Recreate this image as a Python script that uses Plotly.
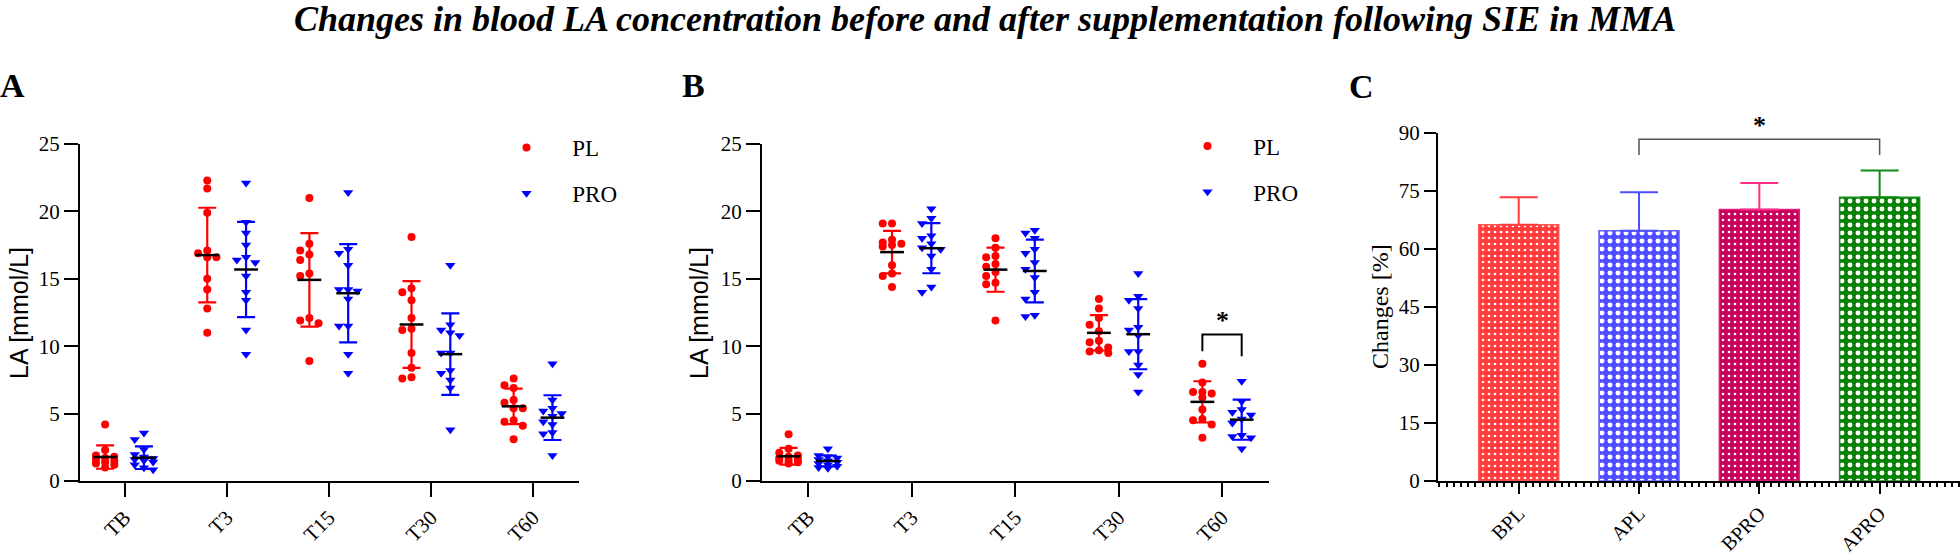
import plotly.graph_objects as go

W, H = 1960, 555


def px(x):
    return x / W


def py(y):
    return 1 - y / H


SERIF = "Liberation Serif, Times New Roman, serif"
SANS = "Liberation Sans, Arial, sans-serif"
NB = "\u00a0" * 3

# ---------------- data ----------------
times = ["TB", "T3", "T15", "T30", "T60"]

# Panel A
A_PL = [
    [4.2, 2.3, 1.9, 1.8, 1.7, 1.6, 1.5, 1.4, 1.3, 1.2, 1.0],
    [22.3, 21.7, 19.9, 17.1, 16.9, 16.6, 16.6, 15.0, 14.2, 12.8, 11.0],
    [21.0, 17.6, 17.1, 16.8, 16.4, 15.4, 15.2, 12.1, 11.9, 11.7, 8.9],
    [18.1, 14.3, 14.0, 13.4, 12.1, 11.3, 11.2, 9.5, 8.4, 7.7, 7.6],
    [7.6, 7.1, 6.9, 6.0, 5.8, 5.4, 5.4, 4.5, 4.4, 4.1, 3.1],
]
A_PRO = [
    [3.56, 3.07, 2.33, 1.96, 1.78, 1.66, 1.6, 1.53, 1.41, 1.21, 0.99, 0.84],
    [22.1, 19.2, 18.4, 17.5, 16.6, 16.4, 16.2, 15.2, 14.0, 13.4, 11.2, 9.4],
    [21.4, 17.2, 16.9, 16.0, 14.2, 14.2, 14.1, 13.5, 11.5, 11.5, 9.4, 8.0],
    [16.0, 11.6, 11.2, 11.0, 10.8, 9.5, 9.5, 8.2, 8.0, 7.5, 6.9, 3.8],
    [8.7, 6.0, 5.4, 5.2, 5.0, 4.8, 4.4, 4.2, 3.6, 3.5, 1.9],
]
A_PL_mean = [1.78, 16.76, 14.92, 11.61, 5.54]
A_PL_sd = [0.87, 3.51, 3.47, 3.22, 1.32]
A_PRO_mean = [1.73, 15.69, 13.93, 9.41, 4.70]
A_PRO_sd = [0.84, 3.54, 3.64, 3.02, 1.66]

# Panel B
B_PL = [
    [3.47, 2.4, 2.1, 1.9, 1.8, 1.7, 1.6, 1.5, 1.5, 1.4, 1.3],
    [19.1, 19.1, 17.9, 17.7, 17.6, 17.5, 17.4, 16.0, 15.4, 15.2, 14.4],
    [18.0, 17.3, 16.7, 16.6, 16.1, 15.9, 15.5, 15.2, 14.7, 14.6, 11.9],
    [13.5, 12.8, 12.1, 11.6, 11.1, 10.4, 10.3, 9.9, 9.7, 9.6, 9.5],
    [8.7, 7.3, 6.6, 6.6, 6.5, 6.2, 5.3, 4.6, 4.5, 4.2, 3.2],
]
B_PRO = [
    [2.4, 1.9, 1.8, 1.7, 1.6, 1.5, 1.4, 1.3, 1.2, 1.1, 1.0, 0.95],
    [20.2, 19.5, 19.1, 18.2, 18.0, 17.6, 17.3, 17.2, 16.7, 15.7, 14.4, 14.0],
    [18.6, 18.4, 18.0, 17.2, 16.9, 16.2, 15.7, 15.1, 14.0, 13.5, 12.3, 12.2],
    [15.4, 13.7, 13.4, 12.8, 11.4, 11.2, 10.8, 9.6, 9.6, 8.6, 7.9, 6.6],
    [7.4, 5.9, 5.3, 5.1, 4.9, 4.6, 4.3, 3.4, 3.3, 3.2, 2.4],
]
B_PL_mean = [1.83, 16.98, 15.68, 10.99, 5.87]
B_PL_sd = [0.62, 1.58, 1.64, 1.31, 1.53]
B_PRO_mean = [1.49, 17.27, 15.58, 10.89, 4.55]
B_PRO_sd = [0.40, 1.86, 2.33, 2.60, 1.49]

# Panel C
groups_C = ["BPL", "APL", "BPRO", "APRO"]
C_mean = [66.3, 64.7, 70.2, 73.4]
C_sd = [7.1, 10.0, 6.9, 6.9]

# ---------------- styling ----------------
RED = "#ff0000"
BLUE = "#0000ff"
GROUP_OFF = 0.19
JIT = 0.09


def swarm(vals, center, step, thresh):
    """deterministic dot-plot spreading: place each point in the first
    column (centre, left, right) that has no close neighbour"""
    order = sorted(range(len(vals)), key=lambda i: -vals[i])
    slots = [0, -1, 1]
    placed = {s: [] for s in slots}
    xs = [0.0] * len(vals)
    for i in order:
        v = vals[i]
        best, bestd = None, -1
        for s in slots:
            d = min([abs(v - u) for u in placed[s]] + [1e9])
            if d >= thresh:
                best = s
                break
            if d > bestd:
                best, bestd = s, d
        placed[best].append(v)
        xs[i] = center + best * step
    return xs


fig = go.Figure()


def dot_panel(PL, PRO, PLm, PLs, PROm, PROs, xa, ya, legend):
    for name, data, mean, sd, off, color, sym in [
        ("PL", PL, PLm, PLs, -GROUP_OFF, RED, "circle"),
        ("PRO", PRO, PROm, PROs, GROUP_OFF, BLUE, "triangle-down"),
    ]:
        xs, ys = [], []
        for k, vals in enumerate(data):
            xs += swarm(vals, k + off, JIT, 0.55)
            ys += vals
        fig.add_trace(go.Scatter(
            x=xs, y=ys, mode="markers", name=NB + name, xaxis=xa, yaxis=ya,
            legend=legend, legendgroup=legend + name,
            marker=dict(symbol=sym, size=8 if sym == "circle" else 9,
                        color=color, line=dict(width=0)),
            hoverinfo="y",
        ))
        fig.add_trace(go.Scatter(
            x=[k + off for k in range(len(times))], y=mean, mode="markers",
            xaxis=xa, yaxis=ya, showlegend=False,
            marker=dict(symbol="line-ew", size=17,
                        line=dict(width=2.5, color="black")),
            error_y=dict(type="data", array=sd, color=color, thickness=2.2,
                         width=9),
            hoverinfo="y",
        ))


dot_panel(A_PL, A_PRO, A_PL_mean, A_PL_sd, A_PRO_mean, A_PRO_sd, "x", "y", "legend")
dot_panel(B_PL, B_PRO, B_PL_mean, B_PL_sd, B_PRO_mean, B_PRO_sd, "x2", "y2", "legend2")

# Panel C bars
bar_fill = ["#ff3b3b", "#4d4dff", "#c8005a", "#008000"]
bar_edge = ["#ff5555", "#6060ff", "#e0207a", "#1a8a1a"]
err_col = ["#ff3b3b", "#4d4dff", "#ff2e8a", "#108a10"]
pat_size = [6, 8, 6, 8]
pat_sol = [0.16, 0.3, 0.16, 0.3]
for i, g in enumerate(groups_C):
    fig.add_trace(go.Bar(
        x=[i], y=[C_mean[i]], width=0.665, xaxis="x3", yaxis="y3",
        showlegend=False, name=g,
        marker=dict(color=bar_fill[i],
                    line=dict(color=bar_edge[i], width=1.5),
                    pattern=dict(shape=".", fgcolor="white",
                                 bgcolor=bar_fill[i],
                                 size=pat_size[i], solidity=pat_sol[i],
                                 fillmode="replace")),
        error_y=dict(type="data", symmetric=False, array=[C_sd[i]],
                     arrayminus=[0], color=err_col[i], thickness=2,
                     width=19),
    ))

# ---------------- axes ----------------
tickfont = dict(family=SERIF, size=21, color="black")
axis_common = dict(showline=True, linecolor="black", linewidth=2,
                   ticks="outside", tickwidth=2,
                   tickcolor="black", showgrid=False, zeroline=False,
                   automargin=False)

y0 = py(481)
layout = dict(
    width=W, height=H, margin=dict(l=0, r=0, t=0, b=0, autoexpand=False),
    paper_bgcolor="white", plot_bgcolor="white",
    barmode="overlay", showlegend=True,
    xaxis=dict(domain=[px(80), px(579)], range=[-0.436, 4.45], anchor="y",
               tickmode="array", tickvals=list(range(5)), ticktext=times,
               tickangle=-45, ticklen=14, tickfont=tickfont, **axis_common),
    yaxis=dict(domain=[y0, py(144)], range=[0, 25], anchor="x",
               tickmode="array", tickvals=[0, 5, 10, 15, 20, 25],
               ticklen=14, tickfont=tickfont, **axis_common),
    xaxis2=dict(domain=[px(762), px(1269)], range=[-0.447, 4.454],
                anchor="y2", tickmode="array", tickvals=list(range(5)),
                ticktext=times, tickangle=-45, ticklen=14, tickfont=tickfont,
                **axis_common),
    yaxis2=dict(domain=[y0, py(144)], range=[0, 25], anchor="x2",
                tickmode="array", tickvals=[0, 5, 10, 15, 20, 25],
                ticklen=14, tickfont=tickfont, **axis_common),
    xaxis3=dict(domain=[px(1438), 1.0], range=[-0.671, 3.668], anchor="y3",
                tickmode="array", tickvals=list(range(4)),
                ticktext=groups_C, tickangle=-45, ticklen=11,
                tickfont=dict(family=SERIF, size=20, color="black"),
                minor=dict(ticks="outside", ticklen=4, tickwidth=1.5,
                           tickcolor="black", dtick=0.06, tick0=0,
                           showgrid=False),
                **axis_common),
    yaxis3=dict(domain=[y0, py(133)], range=[0, 90], anchor="x3",
                tickmode="array", tickvals=[0, 15, 30, 45, 60, 75, 90],
                ticklen=12, tickfont=tickfont, **axis_common),
    legend=dict(x=px(498), y=py(126), xanchor="left", yanchor="top",
                font=dict(family=SERIF, size=23, color="black"),
                bgcolor="rgba(0,0,0,0)", itemwidth=47, tracegroupgap=13),
    legend2=dict(x=px(1179), y=py(124.5), xanchor="left", yanchor="top",
                 font=dict(family=SERIF, size=23, color="black"),
                 bgcolor="rgba(0,0,0,0)", itemwidth=47, tracegroupgap=13),
)
fig.update_layout(**layout)

# ---------------- annotations ----------------
ann = []
ann.append(dict(text="<b><i>Changes in blood LA concentration before and after "
                     "supplementation following SIE in MMA</i></b>",
                x=px(985), y=py(19), xref="paper", yref="paper",
                xanchor="center", yanchor="middle",
                showarrow=False, font=dict(family=SERIF, size=36, color="black")))
for lab, xx, yy in [("A", 12, 86), ("B", 693, 86), ("C", 1361, 87)]:
    ann.append(dict(text="<b>%s</b>" % lab, x=px(xx), y=py(yy), xref="paper",
                    yref="paper", showarrow=False, xanchor="center",
                    yanchor="middle",
                    font=dict(family=SERIF, size=34, color="black")))
for txt, xx, yy, fam, fs in [("LA [mmol/L]", 19, 313, SANS, 25),
                             ("LA [mmol/L]", 699, 313, SANS, 25),
                             ("Changes [%]", 1380, 307, SERIF, 24)]:
    ann.append(dict(text=txt, x=px(xx), y=py(yy), xref="paper", yref="paper",
                    textangle=-90, showarrow=False, xanchor="center",
                    yanchor="middle",
                    font=dict(family=fam, size=fs, color="black")))
# significance stars
ann.append(dict(text="<b>*</b>", x=4, y=11.9, xref="x2", yref="y2",
                xanchor="center", yanchor="middle",
                showarrow=False, font=dict(family=SERIF, size=26, color="black")))
ann.append(dict(text="<b>*</b>", x=2, y=py(125), xref="x3", yref="paper",
                xanchor="center", yanchor="middle",
                showarrow=False, font=dict(family=SERIF, size=26, color="black")))
fig.update_layout(annotations=ann)

# brackets
bx0, bx1 = 4 - GROUP_OFF, 4 + GROUP_OFF
fig.add_shape(type="path", xref="x2", yref="y2",
              path=f"M {bx0},9.63 L {bx0},10.87 L {bx1},10.87 L {bx1},9.26",
              line=dict(color="black", width=2))
fig.add_shape(type="path", xref="x3", yref="y3",
              path="M 1,84.3 L 1,88.4 L 3,88.4 L 3,84.3",
              line=dict(color="#555555", width=1.5))

fig.write_html("out.html",
               config={"displayModeBar": False},
               post_script="document.body.style.margin='0px';"
                           "document.body.style.overflow='hidden';")
